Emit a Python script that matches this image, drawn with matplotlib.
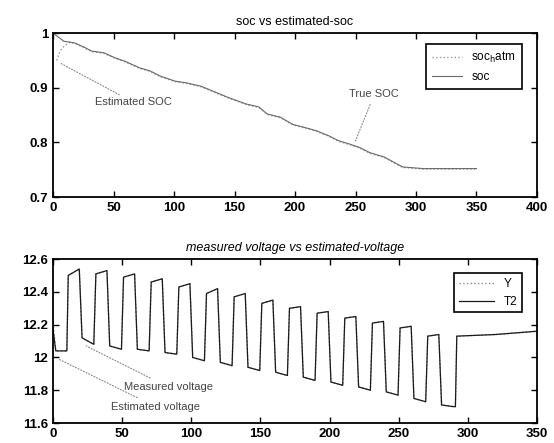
import numpy as np
import matplotlib
matplotlib.use("Agg")
import matplotlib.pyplot as plt

plt.rcParams["font.family"] = ["Liberation Sans", "DejaVu Sans"]

# ---- top panel: state of charge ----
soc_x = [0, 9, 12, 18, 25, 32, 42, 51, 60, 72, 80, 89, 101, 110, 122, 133, 145,
         160, 170, 177, 188, 198, 210, 218, 228, 236, 245, 253, 262, 274, 283, 289, 306, 350]
soc_v = [1.0, 0.985, 0.984, 0.982, 0.975, 0.967, 0.964, 0.955, 0.948, 0.936, 0.931,
         0.921, 0.912, 0.909, 0.903, 0.893, 0.882, 0.870, 0.865, 0.852, 0.846, 0.833,
         0.826, 0.821, 0.812, 0.803, 0.797, 0.791, 0.781, 0.773, 0.762, 0.755, 0.752, 0.752]
est_x = [3, 6, 10, 14, 18, 25, 32, 42, 51, 60, 72, 80, 89, 101, 110, 122, 133, 145,
         160, 170, 177, 188, 198, 210, 218, 228, 236, 245, 253, 262, 274, 283, 289, 306, 350]
est_v = [0.95, 0.968, 0.978, 0.983, 0.981, 0.974, 0.966, 0.963, 0.954, 0.947, 0.935,
         0.930, 0.920, 0.911, 0.908, 0.902, 0.892, 0.881, 0.869, 0.864, 0.851, 0.845,
         0.832, 0.825, 0.820, 0.811, 0.802, 0.796, 0.790, 0.780, 0.772, 0.761, 0.754,
         0.751, 0.751]

# ---- bottom panel: terminal voltage (square pulses) ----
rise_t = [10, 30, 50, 70, 90, 110, 130, 150, 170, 190, 210, 230, 250, 270]
hi_start = [12.50, 12.51, 12.49, 12.46, 12.43, 12.39, 12.37, 12.33, 12.30, 12.27, 12.24, 12.21, 12.18, 12.13]
hi_end = [12.54, 12.53, 12.51, 12.48, 12.45, 12.42, 12.39, 12.35, 12.31, 12.28, 12.25, 12.22, 12.19, 12.14]
lo_start = [12.12, 12.07, 12.05, 12.03, 12.00, 11.97, 11.94, 11.91, 11.88, 11.85, 11.82, 11.79, 11.75, 11.71]
lo_end = [12.08, 12.05, 12.04, 12.02, 11.98, 11.95, 11.92, 11.89, 11.86, 11.83, 11.80, 11.77, 11.73, 11.70]
v_start = [12.17, 12.04, 12.04]      # x = 0, 2, rise_t[0]
rest_t = [291, 292, 320, 350]
rest_v = [11.70, 12.13, 12.14, 12.16]
y_start = 12.21                      # estimate starts off a bit higher


def build_wave(v0):
    t = [0, 2, rise_t[0]]
    v = [v0, v_start[1], v_start[2]]
    for i, r in enumerate(rise_t):
        t += [r + 1, r + 9, r + 11, r + 19.5]
        v += [hi_start[i], hi_end[i], lo_start[i], lo_end[i]]
    t += rest_t
    v += rest_v
    return t, v


fig = plt.figure(figsize=(5.54, 4.43), dpi=100)
ax1 = fig.add_axes([0.0957, 0.5553, 0.8736, 0.370])
ax2 = fig.add_axes([0.0957, 0.0451, 0.8736, 0.370])

ax1.plot(est_x, est_v, ls=":", color="#9a9a9a", lw=1.0, label="soc$_{\\rm h}$atm")
ax1.plot(soc_x, soc_v, ls="-", color="#6a6a6a", lw=0.8, label="soc")
ax1.set_xlim(0, 400)
ax1.set_ylim(0.7, 1.0)
ax1.set_xticks(np.arange(0, 401, 50))
ax1.set_yticks([0.7, 0.8, 0.9, 1.0])
ax1.set_yticklabels(["0.7", "0.8", "0.9", "1"])
ax1.set_title("soc vs estimated-soc", fontsize=9, pad=6)
ax1.annotate("Estimated SOC", xy=(6, 0.945), xytext=(35, 0.873), fontsize=8,
             color="#444444", va="center",
             arrowprops=dict(arrowstyle="-", ls=":", color="#888888", lw=0.8,
                             shrinkA=0, shrinkB=0))
ax1.annotate("True SOC", xy=(250, 0.803), xytext=(245, 0.888), fontsize=8,
             color="#444444", va="center",
             arrowprops=dict(arrowstyle="-", ls=":", color="#888888", lw=0.8,
                             shrinkA=2, shrinkB=0))
leg1 = ax1.legend(loc="upper right", bbox_to_anchor=(0.981, 0.970), fontsize=8.5,
                  fancybox=False, framealpha=1, edgecolor="black",
                  handlelength=2.5, borderpad=0.5)
leg1.get_frame().set_linewidth(1.2)

tv, vv = build_wave(v_start[0])
ty, vy = build_wave(y_start)
ax2.plot(ty, vy, ls=":", color="#8a8a8a", lw=1.0, label="Y")
ax2.plot(tv, vv, ls="-", color="#1a1a1a", lw=0.9, label="T2")
ax2.set_xlim(0, 350)
ax2.set_ylim(11.6, 12.6)
ax2.set_xticks(np.arange(0, 351, 50))
ax2.set_yticks([11.6, 11.8, 12.0, 12.2, 12.4, 12.6])
ax2.set_yticklabels(["11.6", "11.8", "12", "12.2", "12.4", "12.6"])
ax2.set_title("measured voltage vs estimated-voltage", fontsize=9, style="italic", pad=6)
ax2.annotate("Measured voltage", xy=(24, 12.07), xytext=(51, 11.82), fontsize=8,
             color="#444444", va="center",
             arrowprops=dict(arrowstyle="-", ls=":", color="#888888", lw=0.8,
                             shrinkA=2, shrinkB=0))
ax2.annotate("Estimated voltage", xy=(4, 11.99), xytext=(42, 11.70), fontsize=8,
             color="#444444", va="center",
             arrowprops=dict(arrowstyle="-", ls=":", color="#888888", lw=0.8,
                             shrinkA=2, shrinkB=0))
leg2 = ax2.legend(loc="upper right", bbox_to_anchor=(0.981, 0.951), fontsize=8.5,
                  fancybox=False, framealpha=1, edgecolor="black",
                  handlelength=3.0, borderpad=0.4, markerfirst=True)
leg2.get_frame().set_linewidth(1.2)
for t in leg2.get_texts():
    t.set_ha("right")

for ax in (ax1, ax2):
    ax.tick_params(direction="in", which="both", top=True, right=True,
                   labelsize=9.5, length=4, width=1)
    for s in ax.spines.values():
        s.set_linewidth(1.3)
    for lab in ax.get_xticklabels() + ax.get_yticklabels():
        lab.set_fontweight("bold")

fig.savefig("out.png", dpi=100)
